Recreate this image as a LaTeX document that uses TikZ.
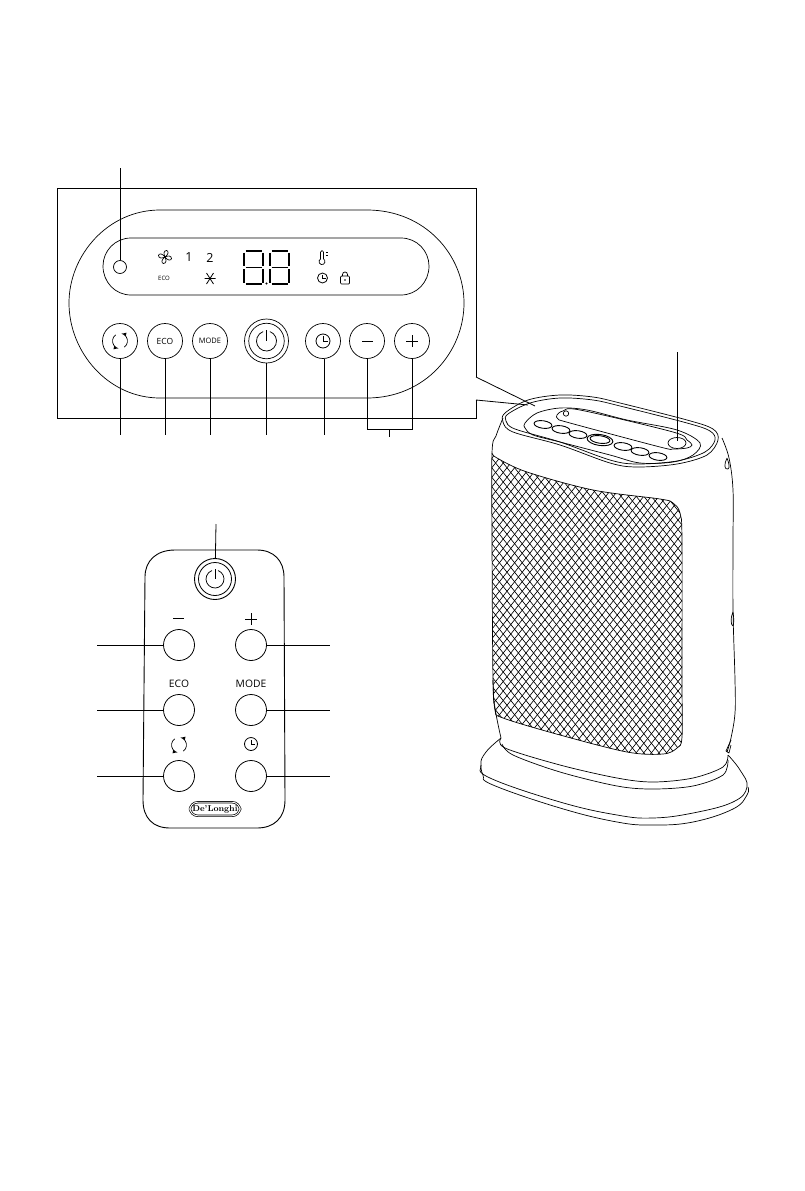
\documentclass[tikz,border=0pt]{standalone}
\usepackage{fontspec}
\setsansfont{Open Sans}
\usetikzlibrary{shapes.geometric, arrows, positioning}
\tikzset{
  thin line/.style={line width=0.7pt, line join=round},
  leader/.style={line width=0.8pt},
  panelbtn/.style={draw, circle, line width=0.7pt, minimum size=35pt, inner sep=0pt, font=\sffamily\fontsize{8.5}{10}\selectfont},
  remotebtn/.style={draw, circle, line width=0.8pt, minimum size=31pt, inner sep=0pt},
  caption/.style={inner sep=0pt, font=\sffamily\fontsize{10.3}{11}\selectfont},
  topbtn/.style={draw, ellipse, fill=white, line width=0.9pt, minimum width=18pt, minimum height=7.5pt, inner sep=0pt, rotate=-8},
  powericon/.pic={
    \draw[line width=0.75pt] (0,-11) -- (0,0);
    \draw[line width=0.75pt] (290:10) arc (290:610:10);
  },
  clockicon/.pic={
    \draw[line width=0.8pt] (0,0) circle (#1);
    \draw[line width=0.8pt] (0,-#1*0.65) -- (0,0) -- (#1*0.65,0);
  },
  cycleicon/.pic={
    \draw[->,>=latex, line width=0.7pt] (235:7.5) arc (235:100:7.5);
    \draw[->,>=latex, line width=0.7pt] (55:7.5) arc (55:-80:7.5);
  },
  fanicon/.pic={
    \foreach \a in {0,90,180,270}
      \draw[line width=0.7pt, rotate=\a] (0,0) .. controls (-1.5,-2.5) and (-1.5,-6.5) .. (1.5,-6.5) .. controls (4,-6.5) and (3.5,-2) .. (0,0);
  },
  segment/.style={line width=1.1pt},
  eightdigit/.pic={
    \draw[segment] (1.5,0) -- (17.5,0);
    \draw[segment] (1.5,16.5) -- (17.5,16.5);
    \draw[segment] (1.5,33) -- (17.5,33);
    \draw[segment] (0,1.5) -- (0,15);
    \draw[segment] (19,1.5) -- (19,15);
    \draw[segment] (0,18) -- (0,31.5);
    \draw[segment] (19,18) -- (19,31.5);
  }
}
\begin{document}
\begin{tikzpicture}[x=1pt,y=-1pt]
  \useasboundingbox (0,0) rectangle (805,1191);
  % zoom frame with the opening towards the heater
  \draw[leader] (476,400) -- (476,418) -- (57,418) -- (57,188) -- (476,188) -- (476,377);
  \draw[leader] (476,377) -- (535,406);
  \draw[leader] (476,400) -- (528,405);
  % control panel
  \draw[thin line] (160,210) -- (367,210) .. controls (425,210) and (464,255) .. (464,303)
    .. controls (464,352) and (425,398) .. (367,398) -- (160,398)
    .. controls (108,398) and (69,352) .. (69,303) .. controls (69,255) and (108,210) .. (160,210);
  \draw[thin line] (131,238) -- (401,238) .. controls (417,238) and (429,251) .. (429,266)
    .. controls (429,282) and (417,295) .. (401,295) -- (131,295)
    .. controls (115,295) and (103,282) .. (103,266) .. controls (103,251) and (115,238) .. (131,238);
  \node[draw, circle, thin line, minimum size=13pt, inner sep=0pt] (led) at (120,267) {};
  \pic at (165,257) {fanicon};
  \node[caption, font=\sffamily\fontsize{12.5}{13}\selectfont] (speedone) at (189,257.5) {1};
  \node[caption, font=\sffamily\fontsize{12.5}{13}\selectfont] (speedtwo) at (210,257.5) {2};
  \node[caption, font=\sffamily\fontsize{6}{7}\selectfont] (ecosmall) at (164,278) {ECO};
  \draw[line width=0.8pt] (204.5,278.5) -- (215.5,278.5) (206.5,273) -- (213.5,284) (213.5,273) -- (206.5,284);
  \pic at (244,251) {eightdigit};
  \pic at (270,251) {eightdigit};
  \fill (266.5,283.5) circle (1.2);
  % thermometer, clock and lock
  \draw[line width=0.7pt] (320.5,252) -- (320.5,259) arc (240:-60:3) -- (323.5,252) arc (0:-180:1.5);
  \draw[line width=0.6pt] (325.5,252) -- (327.5,252) (325.5,255) -- (327.5,255);
  \pic at (322.5,278) {clockicon=5};
  \draw[line width=0.7pt, rounded corners=1pt] (340.5,276) rectangle (349.5,284);
  \draw[line width=0.7pt] (342.5,276) -- (342.5,274.5) arc (180:360:2.5) -- (347.5,276);
  \fill (345,280) circle (0.8);
  % panel buttons
  \node[panelbtn] (cyclebtn) at (120,341) {};
  \pic at (120,341) {cycleicon};
  \node[panelbtn] (ecobtn) at (165,341) {ECO};
  \node[panelbtn, font=\sffamily\fontsize{7.5}{9}\selectfont] (modebtn) at (210,341) {MODE};
  \node[draw, circle, line width=0.7pt, minimum size=44pt, inner sep=0pt] (powerbtn) at (266.5,341) {};
  \node[draw, circle, line width=0.7pt, minimum size=35.5pt, inner sep=0pt] at (266.5,341) {};
  \pic at (266.5,341) {powericon};
  \node[panelbtn] (clockbtn) at (323,341) {};
  \pic at (323,341) {clockicon=7};
  \node[panelbtn] (minusbtn) at (367,341) {};
  \draw[line width=0.7pt] (362,341.5) -- (372.5,341.5);
  \node[panelbtn] (plusbtn) at (412,341) {};
  \draw[line width=0.7pt] (406,341) -- (418,341) (412,335) -- (412,347);
  % panel leaders
  \coordinate (ledtop) at (120,168);
  \draw[leader] (ledtop) -- (led);
  \foreach \btn/\xx in {cyclebtn/120,ecobtn/165,modebtn/210,powerbtn/266.5,clockbtn/324.5}
    \draw[leader] (\xx,0 |- \btn.south) -- (\xx,435);
  \coordinate (joinend) at (389,437);
  \draw[leader] (minusbtn.south) -- (367,429) -- (412,429) -- (plusbtn.south);
  \draw[leader] (389,429) -- (joinend);
  % remote control
  \draw[line width=0.9pt] (175,550) -- (257,550) .. controls (274,550) and (284,561) .. (284,577)
    -- (285,800) .. controls (285,818) and (274,828) .. (257,828) -- (170,828)
    .. controls (153,828) and (143,818) .. (143,800) -- (145,577) .. controls (145,561) and (156,550) .. (175,550);
  \node[draw, circle, fill=white, line width=0.9pt, minimum size=41pt, inner sep=0pt] (rpower) at (215,579) {};
  \node[draw, circle, line width=0.8pt, minimum size=33pt, inner sep=0pt] at (215,579) {};
  \pic[scale=0.9] at (215,579) {powericon};
  \node[remotebtn] (rminus) at (179,645) {};
  \node[remotebtn] (rplus) at (251,645) {};
  \node[remotebtn] (reco) at (179,710) {};
  \node[remotebtn] (rmode) at (251,710) {};
  \node[remotebtn] (rcycle) at (179,776) {};
  \node[remotebtn] (rclock) at (251,776) {};
  \draw[line width=0.7pt] (173,618.5) -- (184,618.5);
  \draw[line width=0.7pt] (245,619) -- (257,619) (251,613) -- (251,625);
  \node[caption] (recolabel) at (179,684) {ECO};
  \node[caption] (rmodelabel) at (251,684) {MODE};
  \pic at (179,745) {cycleicon};
  \pic at (251,744) {clockicon=6.5};
  \node[draw, double, double distance=0.9pt, line width=0.7pt, rounded corners=8pt, inner xsep=2.5pt, inner ysep=3pt,
    font=\rmfamily\bfseries\fontsize{8.5}{9}\selectfont] (logo) at (215,809) {De'Longhi};
  % remote leaders
  \coordinate (rpowertop) at (216,524);
  \draw[leader] (rpowertop) -- (rpower);
  \foreach \btn in {rminus,reco,rcycle}
    \draw[leader] (\btn.west) -- (97,0 |- \btn);
  \foreach \btn in {rplus,rmode,rclock}
    \draw[leader] (\btn.east) -- (330,0 |- \btn);
  % grille of the heater
  \begin{scope}
    \clip plot[smooth, tension=0.55] coordinates {(492,453) (497,458) (527,472) (593,490) (660,499) (673,503) (680,513) (682,540) (682,680) (682,737) (677,748) (663,754) (627,752) (560,735) (503,718) (495,710) (493,680) (492,540) (492,453)};
    \foreach \i in {0,...,80}
      \draw[line width=0.65pt] (400+\i*7.6,440) -- +(-320,400) (400+\i*7.6-280,440) -- +(320,400);
  \end{scope}
  \draw[thin line] plot[smooth, tension=0.55] coordinates {(492,453) (497,458) (527,472) (593,490) (660,499) (673,503) (680,513) (682,540) (682,680) (682,737) (677,748) (663,754) (627,752) (560,735) (503,718) (495,710) (493,680)};
  % body of the heater
  \draw[thin line] plot[smooth, tension=0.6] coordinates {(503,418) (496,436) (492,453) (492,540) (493,680) (495,708) (501,738)};
  \draw[thin line] plot[smooth, tension=0.6] coordinates {(722,438) (729,458) (733,490) (733,540) (733,610) (735,680) (735,713) (731,738) (727,752)};
  \draw[thin line] (727,458) .. controls (724,464) and (724,470) .. (728,469) .. controls (730,468) and (729,463) .. (727,458);
  \draw[thin line] (733,612) .. controls (730,618) and (731,626) .. (733,626) .. controls (734,624) and (734,618) .. (733,612);
  \draw[thin line] (731,740) -- (726,751) -- (729,753) -- (731,745);
  \draw[thin line] plot[smooth, tension=0.55] coordinates {(501,738) (505,748) (560,765) (617,778) (653,782) (693,778) (723,767) (728,755)};
  \draw[thin line] plot[smooth, tension=0.55] coordinates {(502,744) (513,755) (560,772) (617,786) (653,789) (693,786) (723,775) (728,760)};
  % base of the heater
  \draw[thin line] plot[smooth, tension=0.7] coordinates {(501,738) (486,752) (481,765) (490,778) (560,802) (617,815) (653,818) (693,813) (733,802) (747,787) (740,770) (728,755)};
  \draw[thin line] plot[smooth, tension=0.7] coordinates {(481,765) (483,775) (493,785) (560,808) (617,822) (653,825) (693,822) (733,809) (747,795) (748,787)};
  % top of the heater
  \draw[thin line] plot[smooth cycle, tension=0.55] coordinates {(528,400) (560,395) (593,397) (620,403) (687,420) (713,429) (718,440) (707,455) (677,464) (637,467) (610,463) (560,445) (513,432) (503,422) (505,413)};
  \draw[thin line] plot[smooth cycle, tension=0.55] coordinates {(530,403) (560,398) (593,400) (620,406) (687,423) (710,431) (715,440) (705,452) (677,461) (637,464) (610,460) (560,442) (515,429) (506,421) (508,414)};
  \draw[thin line] plot[smooth cycle, tension=0.55] coordinates {(525,423) (537,413) (560,408) (587,410) (627,420) (677,430) (700,443) (693,455) (673,462) (640,463) (610,455) (560,442) (533,435) (525,428)};
  \draw[thin line] plot[smooth cycle, tension=0.55] coordinates {(557,415) (563,411) (580,410) (673,432) (687,440) (692,445) (687,448) (673,449) (660,447) (570,423) (558,419)};
  \draw[thin line] (566,413.5) circle (2.7);
  \node[topbtn] (topa) at (543,424.5) {};
  \node[topbtn] (topb) at (561,429.5) {};
  \node[topbtn] (topc) at (578,434.5) {};
  \node[topbtn, minimum width=26pt, minimum height=11pt] (toppower) at (600,440) {};
  \node[topbtn, minimum width=20pt, minimum height=7.5pt] at (600,439.5) {};
  \node[topbtn] (topd) at (623,446.5) {};
  \node[topbtn] (tope) at (640,451.5) {};
  \node[topbtn] (topf) at (658,456.5) {};
  \node[draw, ellipse, fill=white, thin line, minimum width=18pt, minimum height=11pt, inner sep=0pt] (topsensor) at (677,443) {};
  \coordinate (sensortop) at (677,352);
  \draw[leader] (sensortop) -- (677,441);
\end{tikzpicture}
\end{document}
